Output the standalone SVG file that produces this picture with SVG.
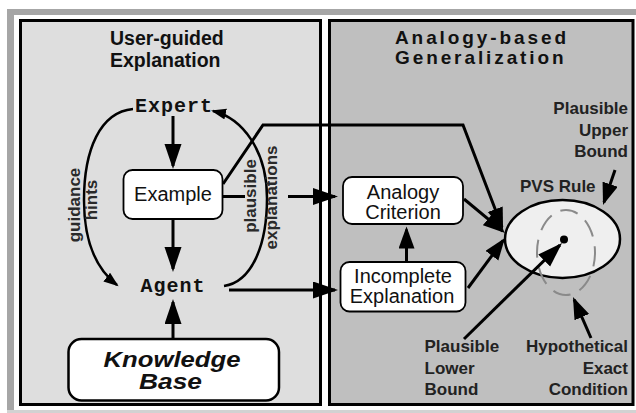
<svg xmlns="http://www.w3.org/2000/svg" width="636" height="413" viewBox="0 0 636 413">
  <style>
    .title { font-family: "Liberation Sans", Arial, sans-serif; font-weight: bold; font-size: 19.5px; fill: #111; }
    .title2 { font-family: "Liberation Sans", Arial, sans-serif; font-weight: bold; font-size: 19px; letter-spacing: 2.9px; fill: #111; }
    .box { fill: #fff; stroke: #000; stroke-width: 1.8; }
    .boxtext { font-family: "Liberation Sans", Arial, sans-serif; font-size: 20px; fill: #111; text-anchor: middle; }
    .kbtext { font-family: "Liberation Sans", Arial, sans-serif; font-size: 21.5px; font-weight: bold; font-style: italic; fill: #111; text-anchor: middle; }
    .mono { font-family: "Liberation Mono", "Courier New", monospace; font-weight: bold; font-size: 20px; letter-spacing: 1px; fill: #111; text-anchor: middle; }
    .label { font-family: "Liberation Sans", Arial, sans-serif; font-weight: bold; font-size: 17px; fill: #222; }
    .vlabel { font-family: "Liberation Sans", Arial, sans-serif; font-weight: bold; font-size: 17px; fill: #2a2a2a; text-anchor: middle; }
    .edge { fill: none; stroke: #000; stroke-width: 3; }
    .arc { fill: none; stroke: #000; stroke-width: 2.5; }
  </style>
  <defs>
    <marker id="big" markerUnits="userSpaceOnUse" markerWidth="26" markerHeight="18" refX="22" refY="8.5" orient="auto">
      <path d="M0,0 L25,8.5 L0,17 z" fill="#000"/>
    </marker>
    <marker id="mid" markerUnits="userSpaceOnUse" markerWidth="23" markerHeight="17" refX="19" refY="8" orient="auto">
      <path d="M0,0 L22,8 L0,16 z" fill="#000"/>
    </marker>
    <marker id="small" markerUnits="userSpaceOnUse" markerWidth="16" markerHeight="12" refX="13" refY="5.5" orient="auto">
      <path d="M0,0 L15,5.5 L0,11 z" fill="#000"/>
    </marker>
  </defs>

  <!-- page frame -->
  <rect x="0" y="0" width="636" height="413" fill="#fff"/>
  <rect x="7" y="9" width="629" height="6" fill="#a6a6a6"/>
  <rect x="7" y="9" width="7" height="401" fill="#a6a6a6"/>
  <rect x="7" y="410" width="629" height="3" fill="#d2d2d2"/>

  <!-- panels -->
  <g id="panel-explanation">
    <rect x="20.5" y="20.5" width="300" height="384" fill="#dedede" stroke="#000" stroke-width="3"/>
    <text class="title" x="110" y="45">User-guided</text>
    <text class="title" x="110" y="67">Explanation</text>
  </g>
  <g id="panel-generalization">
    <rect x="329.5" y="20.5" width="303.5" height="384" fill="#bfbfbf" stroke="#000" stroke-width="3"/>
    <text class="title2" x="395" y="43.5">Analogy-based</text>
    <text class="title2" x="395" y="63.5">Generalization</text>
  </g>

  <!-- PVS rule ellipse -->
  <g id="pvs-rule">
    <ellipse cx="562.5" cy="239" rx="57.5" ry="39" fill="#efefef" stroke="#000" stroke-width="2.5"/>
    <ellipse cx="566" cy="252.5" rx="29" ry="42.5" fill="none" stroke="#8a8a8a" stroke-width="2" stroke-dasharray="18 10" stroke-dashoffset="4"/>
    <circle cx="564" cy="239.5" r="4" fill="#000"/>
    <text class="label" x="520" y="192">PVS Rule</text>
  </g>

  <!-- connectors -->
  <g id="connectors">
    <line class="edge" x1="173" y1="116" x2="173" y2="166" marker-end="url(#big)"/>
    <line class="edge" x1="173" y1="219.5" x2="173" y2="269" marker-end="url(#big)"/>
    <line class="edge" x1="173" y1="338" x2="173" y2="302" marker-end="url(#big)"/>
    <path class="arc" d="M133,109 C100,112 84,150 84,200 C84,240 95,268 117,285" marker-end="url(#small)"/>
    <path class="arc" d="M224,286 C252,282 267,245 267,198 C267,150 242,118 213,111" marker-end="url(#small)"/>
    <line class="edge" x1="223" y1="196.5" x2="245" y2="196.5" stroke-width="3.5"/>
    <line class="edge" x1="288" y1="196.5" x2="335" y2="196.5" stroke-width="3.5" marker-end="url(#big)"/>
    <line class="edge" x1="229" y1="290" x2="335" y2="290" stroke-width="3.5" marker-end="url(#big)"/>
    <line class="edge" x1="406.5" y1="261.5" x2="406.5" y2="229.5" marker-end="url(#mid)"/>
    <path class="edge" d="M223,184 L263,125 L463,125 L502,227" stroke-width="4.5" stroke-linejoin="miter" marker-end="url(#mid)"/>
    <line class="edge" x1="464" y1="199" x2="502.7" y2="231.1" marker-end="url(#mid)"/>
    <line class="edge" x1="468" y1="288" x2="503.2" y2="240.4" marker-end="url(#mid)"/>
    <line class="edge" x1="464" y1="339" x2="559.9" y2="245.1" stroke="#1a1a1a" marker-end="url(#big)"/>
    <line class="edge" x1="591" y1="338" x2="574.2" y2="299.7" marker-end="url(#mid)"/>
    <line class="edge" x1="615" y1="170" x2="604" y2="202.2" marker-end="url(#mid)"/>
  </g>

  <!-- nodes -->
  <g id="expert">
    <text class="mono" x="174" y="111.5">Expert</text>
  </g>
  <g id="agent">
    <text class="mono" x="173" y="292">Agent</text>
  </g>
  <g id="example">
    <rect class="box" x="123.5" y="170" width="99" height="49" rx="9"/>
    <text class="boxtext" x="173" y="201">Example</text>
  </g>
  <g id="knowledge-base">
    <rect class="box" x="68.5" y="339" width="210.5" height="61.5" rx="13" style="stroke-width:2.5"/>
    <text class="kbtext" x="172" y="366.5" textLength="137" lengthAdjust="spacingAndGlyphs">Knowledge</text>
    <text class="kbtext" x="170.5" y="389" textLength="63" lengthAdjust="spacingAndGlyphs">Base</text>
  </g>
  <g id="analogy-criterion">
    <rect class="box" x="343" y="177" width="120" height="47" rx="9"/>
    <text class="boxtext" x="403" y="198.5">Analogy</text>
    <text class="boxtext" x="403" y="218.5">Criterion</text>
  </g>
  <g id="incomplete-explanation">
    <rect class="box" x="340.5" y="262" width="125" height="49.5" rx="9"/>
    <text class="boxtext" x="403" y="283">Incomplete</text>
    <text class="boxtext" x="402" y="303">Explanation</text>
  </g>

  <!-- edge labels -->
  <g id="edge-labels">
    <text class="vlabel" transform="translate(80,205) rotate(-90)">guidance</text>
    <text class="vlabel" transform="translate(97,200) rotate(-90)">hints</text>
    <text class="vlabel" transform="translate(256,196) rotate(-90)">plausible</text>
    <text class="vlabel" transform="translate(277,197.5) rotate(-90)">explanations</text>
  </g>

  <!-- bound annotations -->
  <g id="upper-bound-label">
    <text class="label" x="628" y="114" text-anchor="end">Plausible</text>
    <text class="label" x="628" y="135.5" text-anchor="end">Upper</text>
    <text class="label" x="628" y="157" text-anchor="end">Bound</text>
  </g>
  <g id="lower-bound-label">
    <text class="label" x="424.5" y="352">Plausible</text>
    <text class="label" x="424.5" y="373.5">Lower</text>
    <text class="label" x="424.5" y="395">Bound</text>
  </g>
  <g id="exact-condition-label">
    <text class="label" x="628" y="352" text-anchor="end">Hypothetical</text>
    <text class="label" x="628" y="373.5" text-anchor="end">Exact</text>
    <text class="label" x="628" y="395" text-anchor="end">Condition</text>
  </g>
</svg>
